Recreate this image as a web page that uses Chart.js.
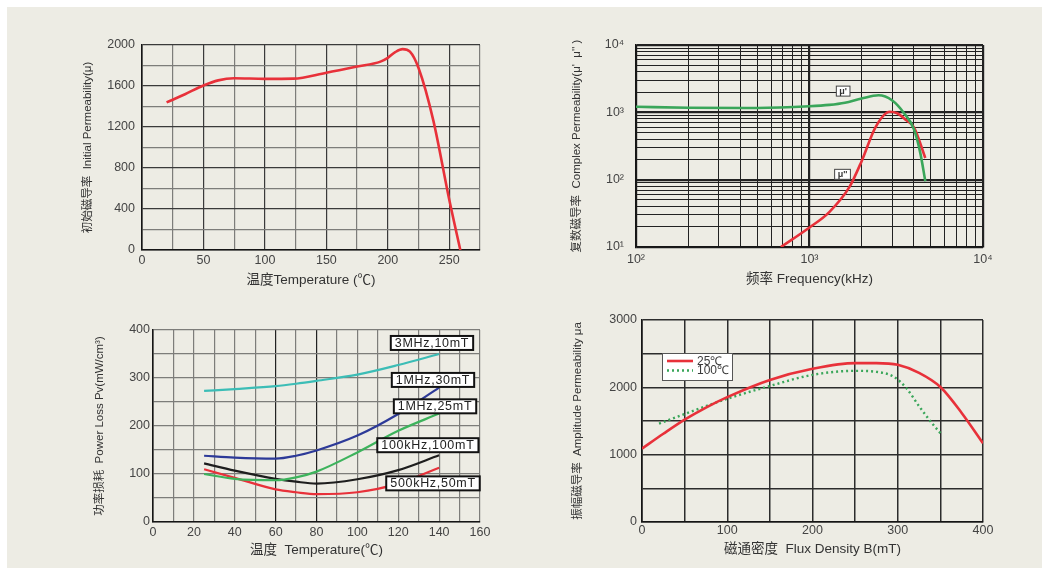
<!DOCTYPE html>
<html>
<head>
<meta charset="utf-8">
<title>Ferrite material curves</title>
<script src="https://cdn.jsdelivr.net/npm/chart.js"></script>
<style>
  html, body { margin: 0; padding: 0; background: #fff; }
  #sheet { position: absolute; left: 7px; top: 7px; width: 1035px; height: 561px; background: #edece4; }
  canvas { position: absolute; }
</style>
</head>
<body>
<div id="sheet"></div>
<canvas id="permTemp"></canvas>
<canvas id="complexPerm"></canvas>
<canvas id="powerLoss"></canvas>
<canvas id="ampPerm"></canvas>
<script>
// initial permeability vs temperature
const tempC = [20, 35, 50, 62, 75, 100, 123, 150, 175, 194, 200, 206, 212, 218, 225, 237, 250, 259];
const initialPerm = [1440, 1520, 1605, 1655, 1675, 1670, 1672, 1730, 1790, 1838, 1875, 1930, 1960, 1935, 1775, 1265, 490, 0];

// complex permeability vs frequency (kHz)
const freqReal = [100, 200, 500, 1000, 1300, 1600, 2000, 2500, 3000, 3500, 4000, 4350, 4650];
const muReal = [1210, 1170, 1160, 1230, 1290, 1390, 1610, 1790, 1500, 980, 560, 250, 95];
const freqImag = [684, 1000, 1300, 1700, 2000, 2400, 2900, 3200, 3600, 4000, 4650];
const muImag = [10, 19.5, 33, 78, 190, 600, 1020, 970, 770, 600, 210];
const freqTicks = [100, 200, 300, 400, 500, 600, 700, 800, 900, 1000, 2000, 3000, 4000, 5000, 6000, 7000, 8000, 9000, 10000];
const muTicks = [10, 20, 30, 40, 50, 60, 70, 80, 90, 100, 200, 300, 400, 500, 600, 700, 800, 900, 1000, 2000, 3000, 4000, 5000, 6000, 7000, 8000, 9000, 10000];
const decadeLabels = { 10: '10¹', 100: '10²', 1000: '10³', 10000: '10⁴' };

// power loss vs temperature
const lossTemps = [25, 40, 60, 70, 80, 100, 120, 140];
const lossNames = ['3MHz,10mT', '1MHz,30mT', '1MHz,25mT', '100kHz,100mT', '500kHz,50mT'];
const loss3M10 = [273, 277, 283, 288, 294, 307, 327, 350];
const loss1M30 = [138, 134, 132, 138, 149, 180, 225, 280];
const loss1M25 = [100, 90, 87, 93, 105, 145, 190, 226];
const loss100k100 = [122, 107, 90, 84, 80, 89, 108, 139];
const loss500k50 = [110, 92, 68, 62, 58, 62, 80, 113];

// amplitude permeability vs flux density
const flux25 = [0, 25, 50, 75, 100, 150, 200, 250, 275, 300, 325, 350, 375, 400];
const amp25 = [1090, 1310, 1520, 1700, 1855, 2110, 2275, 2360, 2360, 2335, 2215, 2005, 1620, 1170];
const flux100 = [20, 50, 100, 150, 200, 250, 275, 295, 310, 325, 340, 350];
const amp100 = [1460, 1605, 1830, 2020, 2185, 2245, 2230, 2160, 1990, 1720, 1470, 1320];

Chart.defaults.font.family = "'Liberation Sans', Arial, 'Noto Sans CJK SC', sans-serif";
Chart.defaults.color = '#3c3c3c';

const DARK = '#222';
const GREY = '#7d7d7a';

const pts = (xs, ys) => xs.map((x, i) => ({ x: x, y: ys[i] }));

// size the canvas and work out padding / axis sizes so the plot lands where wanted
function frame(id, box, area) {
  const c = document.getElementById(id);
  c.width = box.r - box.l;
  c.height = box.b - box.t;
  c.style.left = box.l + 'px';
  c.style.top = box.t + 'px';
  c.style.width = c.width + 'px';
  c.style.height = c.height + 'px';
  return {
    ctx: c,
    padding: { left: 0, top: area.t - box.t, right: box.r - area.r, bottom: 0 },
    yWidth: area.l - box.l,
    xHeight: box.b - area.b
  };
}

function scaleOpts(o) {
  const s = {
    type: o.type || 'linear',
    min: o.min,
    max: o.max,
    afterFit: sc => { if (sc.isHorizontal()) sc.height = o.size; else sc.width = o.size; },
    ticks: {
      stepSize: o.step, autoSkip: false, maxRotation: 0, padding: o.gap,
      color: '#444', font: { size: 12.5 }, callback: o.label
    },
    grid: { drawTicks: false, color: o.gridColor, lineWidth: o.gridWidth || 1.2 },
    border: { color: '#151515', width: 1.6 },
    title: {
      display: true, text: o.title, color: '#333',
      font: { size: o.titleSize }, padding: { top: 2, bottom: 2 }
    }
  };
  if (o.ticksAt) s.afterBuildTicks = sc => { sc.ticks = o.ticksAt.map(v => ({ value: v })); };
  return s;
}

// white captions with a dark frame, anchored on data coordinates
const noteBoxes = {
  id: 'noteBoxes',
  afterDatasetsDraw(chart, args, opts) {
    if (!opts.items) return;
    const { ctx, scales } = chart;
    ctx.save();
    ctx.font = opts.font;
    ctx.letterSpacing = opts.spacing || '0px';
    opts.items.forEach(item => {
      const cx = scales.x.getPixelForValue(item.x);
      const cy = scales.y.getPixelForValue(item.y);
      const w = ctx.measureText(item.text).width + opts.padX * 2;
      const h = opts.height;
      ctx.fillStyle = '#fff';
      ctx.fillRect(cx - w / 2, cy - h / 2, w, h);
      ctx.strokeStyle = opts.borderColor;
      ctx.lineWidth = opts.borderWidth;
      ctx.strokeRect(cx - w / 2, cy - h / 2, w, h);
      ctx.fillStyle = opts.color;
      ctx.textAlign = 'center';
      ctx.textBaseline = 'middle';
      ctx.fillText(item.text, cx, cy + 0.5);
    });
    ctx.restore();
  }
};

// boxed key drawn inside the plot area from the dataset styles
const keyBox = {
  id: 'keyBox',
  afterDatasetsDraw(chart, args, opts) {
    if (!opts.display) return;
    const { ctx, chartArea } = chart;
    const x0 = chartArea.left + opts.left;
    const y0 = chartArea.top + opts.top;
    ctx.save();
    ctx.fillStyle = '#fff';
    ctx.fillRect(x0, y0, opts.width, opts.height);
    ctx.strokeStyle = '#555';
    ctx.lineWidth = 1;
    ctx.strokeRect(x0 + 0.5, y0 + 0.5, opts.width, opts.height);
    ctx.font = "12px 'Liberation Sans', Arial, sans-serif";
    ctx.textBaseline = 'middle';
    chart.data.datasets.forEach((ds, i) => {
      const y = y0 + 8 + i * 9.5;
      ctx.beginPath();
      ctx.setLineDash(ds.borderDash || []);
      ctx.strokeStyle = ds.borderColor;
      ctx.lineWidth = ds.borderWidth;
      ctx.moveTo(x0 + 5, y);
      ctx.lineTo(x0 + 31, y);
      ctx.stroke();
      ctx.setLineDash([]);
      ctx.fillStyle = '#3a3a3a';
      ctx.fillText(ds.label, x0 + 35, y + 0.5);
    });
    ctx.restore();
  }
};

const lineStyle = { pointRadius: 0, fill: false, cubicInterpolationMode: 'monotone' };

// --- 初始磁导率 vs 温度
const f1 = frame('permTemp', { l: 79, t: 25, r: 500, b: 290 }, { l: 142, t: 45, r: 480, b: 250 });
new Chart(f1.ctx, {
  type: 'line',
  data: {
    datasets: [Object.assign({ data: pts(tempC, initialPerm), borderColor: '#e8313a', borderWidth: 2.6 }, lineStyle)]
  },
  options: {
    responsive: false, animation: false,
    layout: { padding: f1.padding },
    plugins: { legend: { display: false }, tooltip: { enabled: false } },
    scales: {
      x: scaleOpts({ min: 0, max: 275, step: 25, size: f1.xHeight, gap: 3,
        label: v => (v % 50 === 0 && v <= 250 ? String(v) : ''),
        gridColor: c => (c.tick && c.tick.value % 50 === 0 ? '#3a3a3a' : GREY),
        title: '温度Temperature (℃)', titleSize: 13.5 }),
      y: scaleOpts({ min: 0, max: 2000, step: 200, size: f1.yWidth, gap: 7,
        label: v => (v % 400 === 0 ? String(v) : ''),
        gridColor: c => (c.tick && c.tick.value % 400 === 0 ? '#3a3a3a' : GREY),
        title: '初始磁导率  Initial Permeability(μ)', titleSize: 11.5 })
    }
  }
});

// --- 复数磁导率 vs 频率
const f2 = frame('complexPerm', { l: 568, t: 25, r: 1000, b: 289 }, { l: 636, t: 45, r: 983, b: 247 });
const isDecade = v => Math.abs(Math.log10(v) - Math.round(Math.log10(v))) < 1e-9;
new Chart(f2.ctx, {
  type: 'line',
  data: {
    datasets: [
      Object.assign({ data: pts(freqReal, muReal), borderColor: '#3aa65a', borderWidth: 2.6 }, lineStyle),
      Object.assign({ data: pts(freqImag, muImag), borderColor: '#e8313a', borderWidth: 2.6 }, lineStyle)
    ]
  },
  options: {
    responsive: false, animation: false,
    layout: { padding: f2.padding },
    plugins: {
      legend: { display: false }, tooltip: { enabled: false },
      noteBoxes: {
        items: [{ text: "μ'", x: 1563, y: 2066 }, { text: "μ''", x: 1550, y: 120 }],
        font: "bold 9px 'Liberation Sans', Arial, sans-serif",
        padX: 3, height: 10, borderColor: '#444', borderWidth: 1, color: '#333'
      }
    },
    scales: {
      x: scaleOpts({ type: 'logarithmic', min: 100, max: 10000, ticksAt: freqTicks, size: f2.xHeight, gap: 5,
        label: v => (isDecade(v) ? decadeLabels[Math.round(v)] : ''),
        gridColor: DARK, gridWidth: c => (c.tick && isDecade(c.tick.value) ? 2.2 : 1),
        title: '频率 Frequency(kHz)', titleSize: 13.5 }),
      y: scaleOpts({ type: 'logarithmic', min: 10, max: 10000, ticksAt: muTicks, size: f2.yWidth, gap: 12,
        label: v => (isDecade(v) ? decadeLabels[Math.round(v)] : ''),
        gridColor: DARK, gridWidth: c => (c.tick && isDecade(c.tick.value) ? 2.2 : 1),
        title: "复数磁导率  Complex Permeability(μ'  μ'' )", titleSize: 11.5 })
    }
  },
  plugins: [noteBoxes]
});

// --- 功率损耗 vs 温度
const f3 = frame('powerLoss', { l: 91, t: 310, r: 500, b: 560 }, { l: 153, t: 330, r: 480, b: 522 });
const lossColors = ['#3cbdb6', '#2d3a98', '#3db35c', '#1e1e1e', '#e8313a'];
const lossSets = [loss3M10, loss1M30, loss1M25, loss100k100, loss500k50];
const noteAt = [[136.5, 373], [137, 296], [138, 241], [134.5, 160], [137, 80.5]];
new Chart(f3.ctx, {
  type: 'line',
  data: {
    datasets: lossSets.map((vals, i) => Object.assign({
      label: lossNames[i], data: pts(lossTemps, vals), borderColor: lossColors[i], borderWidth: 2.2
    }, lineStyle))
  },
  options: {
    responsive: false, animation: false,
    layout: { padding: f3.padding },
    plugins: {
      legend: { display: false }, tooltip: { enabled: false },
      noteBoxes: {
        items: lossNames.map((n, i) => ({ text: n, x: noteAt[i][0], y: noteAt[i][1] })),
        font: "12.5px 'Liberation Sans', Arial, sans-serif", spacing: '0.7px',
        padX: 4, height: 14, borderColor: '#111', borderWidth: 2, color: '#222'
      }
    },
    scales: {
      x: scaleOpts({ min: 0, max: 160, step: 10, size: f3.xHeight, gap: 3,
        label: v => (v % 20 === 0 ? String(v) : ''),
        gridColor: c => (c.tick && (c.tick.value === 60 || c.tick.value === 80) ? DARK : GREY),
        title: '温度  Temperature(℃)', titleSize: 13.5 }),
      y: scaleOpts({ min: 0, max: 400, step: 50, size: f3.yWidth, gap: 3,
        label: v => (v % 100 === 0 ? String(v) : ''),
        gridColor: GREY,
        title: '功率损耗  Power Loss Pv(mW/cm³)', titleSize: 11.5 })
    }
  },
  plugins: [noteBoxes]
});

// --- 振幅磁导率 vs 磁通密度
const f4 = frame('ampPerm', { l: 569, t: 305, r: 1000, b: 559 }, { l: 642, t: 320, r: 983, b: 522 });
new Chart(f4.ctx, {
  type: 'line',
  data: {
    datasets: [
      Object.assign({ label: '25℃', data: pts(flux25, amp25), borderColor: '#e8313a', borderWidth: 2.6 }, lineStyle),
      Object.assign({ label: '100℃', data: pts(flux100, amp100), borderColor: '#3aa65a', borderWidth: 2.4, borderDash: [2, 3] }, lineStyle)
    ]
  },
  options: {
    responsive: false, animation: false,
    layout: { padding: f4.padding },
    plugins: {
      legend: { display: false }, tooltip: { enabled: false },
      keyBox: { display: true, left: 20, top: 33, width: 70, height: 27 }
    },
    scales: {
      x: scaleOpts({ min: 0, max: 400, step: 50, size: f4.xHeight, gap: 1,
        label: v => (v % 100 === 0 ? String(v) : ''),
        gridColor: '#2c2c2c', gridWidth: 1.5,
        title: '磁通密度  Flux Density B(mT)', titleSize: 13.5 }),
      y: scaleOpts({ min: 0, max: 3000, step: 500, size: f4.yWidth, gap: 5,
        label: v => (v % 1000 === 0 ? String(v) : ''),
        gridColor: '#2c2c2c', gridWidth: 1.5,
        title: '振幅磁导率  Amplitude Permeability μa', titleSize: 11.5 })
    }
  },
  plugins: [keyBox]
});
</script>
</body>
</html>
